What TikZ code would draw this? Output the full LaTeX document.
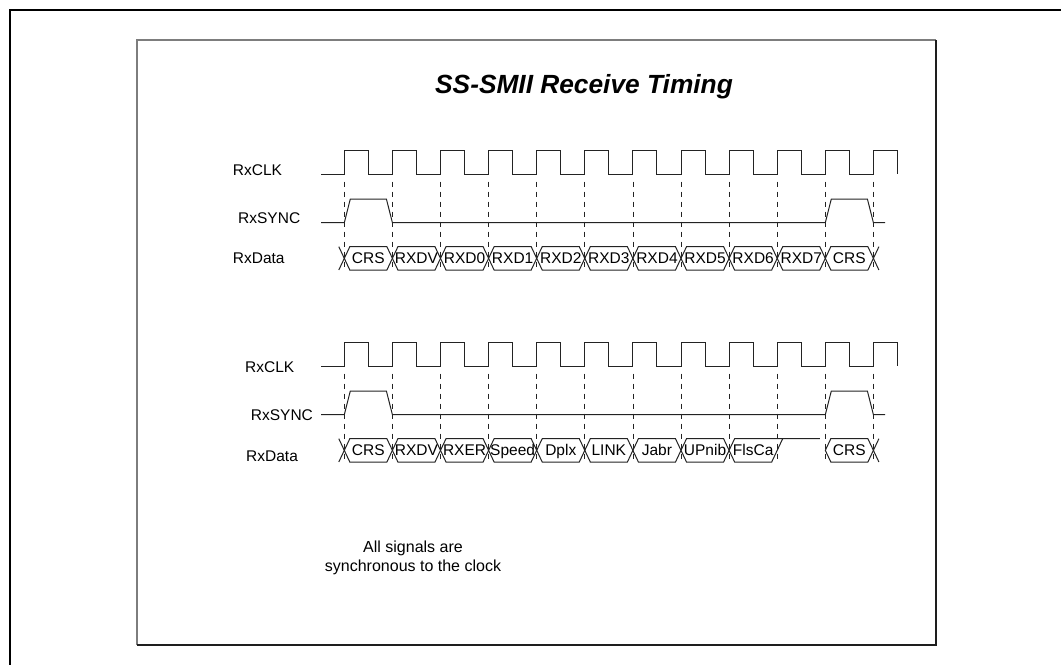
\documentclass[tikz,border=0pt]{standalone}
\usepackage{fontspec}
\setmainfont{Liberation Sans}
\usetikzlibrary{calc}
\definecolor{Ink}{RGB}{0,0,0}
\definecolor{Wave}{RGB}{35,35,35}
\definecolor{PanelLight}{RGB}{125,125,125}
\definecolor{PanelDark}{RGB}{30,30,30}
\newcommand{\tzero}{344.3}
\newcommand{\tper}{48.1}
\tikzset{
  frame/.style={draw=Ink,line width=2pt},
  panel/.style={draw=PanelLight,line width=1.2pt},
  panelshade/.style={draw=PanelDark,line width=1.2pt},
  wave/.style={draw=Wave,line width=1pt,line join=miter},
  tick/.style={draw=Wave,line width=.8pt,dash pattern=on 5pt off 5pt},
  sig/.style={font=\fontsize{15.5}{18}\selectfont,anchor=base west,inner sep=0pt},
  cell/.style={font=\fontsize{15.5}{18}\selectfont,anchor=base,inner sep=0pt},
  title/.style={font=\fontsize{26.3}{30}\selectfont\bfseries\itshape,anchor=base,inner sep=0pt},
  note/.style={font=\fontsize{16}{19}\selectfont,align=center,inner sep=0pt}
}
\begin{document}
\begin{tikzpicture}[x=1pt,y=-1pt]
  \useasboundingbox (0,0) rectangle (1061,665);
  \draw[frame] (1061,10) -- (10,10) -- (10,665);
  \draw[panel] (936,40) -- (137,40) -- (137,645);
  \draw[panelshade] (137,645) -- (936,645) -- (936,40);
  \node[title] (title) at (584,93.3) {SS-SMII Receive Timing};
  % clock, sample ticks and sync for both groups
  \foreach \dy in {0,192} {
    \draw[wave] (321,174.3+\dy) \foreach \k in {0,...,11} {
      -- ({\tzero+\tper*\k},174.3+\dy) -- ++(0,-23.6) -- ++(24,0) -- ++(0,23.6)};
    \foreach \k in {0,...,11}
      \draw[tick] ({\tzero+\tper*\k},181.7+\dy) -- ({\tzero+\tper*\k},270+\dy);
    \draw[wave] (321,222.7+\dy) -- (\tzero,222.7+\dy) -- ++(6,-23.7)
      -- ({\tzero+\tper-6},199+\dy) -- ({\tzero+\tper},222.7+\dy)
      -- ({\tzero+10*\tper},222.7+\dy) -- ++(6,-23.7)
      -- ({\tzero+11*\tper-6},199+\dy) -- ({\tzero+11*\tper},222.7+\dy) -- ++(11.6,0);
    \draw[wave] (\tzero-5.5,246.7+\dy) -- (\tzero,258.35+\dy) -- (\tzero-5.5,270+\dy);
    \draw[wave] ({\tzero+11*\tper+5.5},246.7+\dy) -- ({\tzero+11*\tper},258.35+\dy)
      -- ({\tzero+11*\tper+5.5},270+\dy);
  }
  % data cells, upper group
  \foreach \k in {0,...,10}
    \draw[wave] ({\tzero+\tper*\k},258.35) -- ++(5.5,-11.65) -- ({\tzero+\tper*(\k+1)-5.5},246.7)
      -- ++(5.5,11.65) -- ++(-5.5,11.65) -- ({\tzero+\tper*\k+5.5},270) -- cycle;
  % data cells, lower group
  \foreach \k in {0,...,7,10}
    \draw[wave] ({\tzero+\tper*\k},450.35) -- ++(5.5,-11.65) -- ({\tzero+\tper*(\k+1)-5.5},438.7)
      -- ++(5.5,11.65) -- ++(-5.5,11.65) -- ({\tzero+\tper*\k+5.5},462) -- cycle;
  \draw[wave] ({\tzero+10*\tper-5.5},438.7) -- ({\tzero+8*\tper+5.5},438.7)
    -- ({\tzero+8*\tper},450.35) -- ({\tzero+8*\tper+5.5},462)
    -- ({\tzero+9*\tper-5.5},462) -- ({\tzero+9*\tper+5.5},438.7);
  % signal names
  \node[sig] (clkA) at (232.7,175.5) {RxCLK};
  \node[sig] (syncA) at (238,223.5) {RxSYNC};
  \node[sig] (dataA) at (232.7,263) {RxData};
  \node[sig] (clkB) at (245,372.2) {RxCLK};
  \node[sig] (syncB) at (250.7,420.5) {RxSYNC};
  \node[sig] (dataB) at (246,461) {RxData};
  % cell contents
  \foreach \k/\txt in {0/CRS,1/RXDV,2/RXD0,3/RXD1,4/RXD2,5/RXD3,6/RXD4,7/RXD5,8/RXD6,9/RXD7,10/CRS}
    \node[cell] (cellA\k) at ({\tzero+\tper*(\k+.5)},263.9) {\txt};
  \foreach \k/\txt in {0/CRS,1/RXDV,2/RXER,3/Speed,4/Dplx,5/LINK,6/Jabr,7/UPnib,8/FlsCa,10/CRS}
    \node[cell] (cellB\k) at ({\tzero+\tper*(\k+.5)},455.9) {\txt};
  \node[note] (note) at (413,557.5) {All signals are\\synchronous to the clock};
\end{tikzpicture}
\end{document}
